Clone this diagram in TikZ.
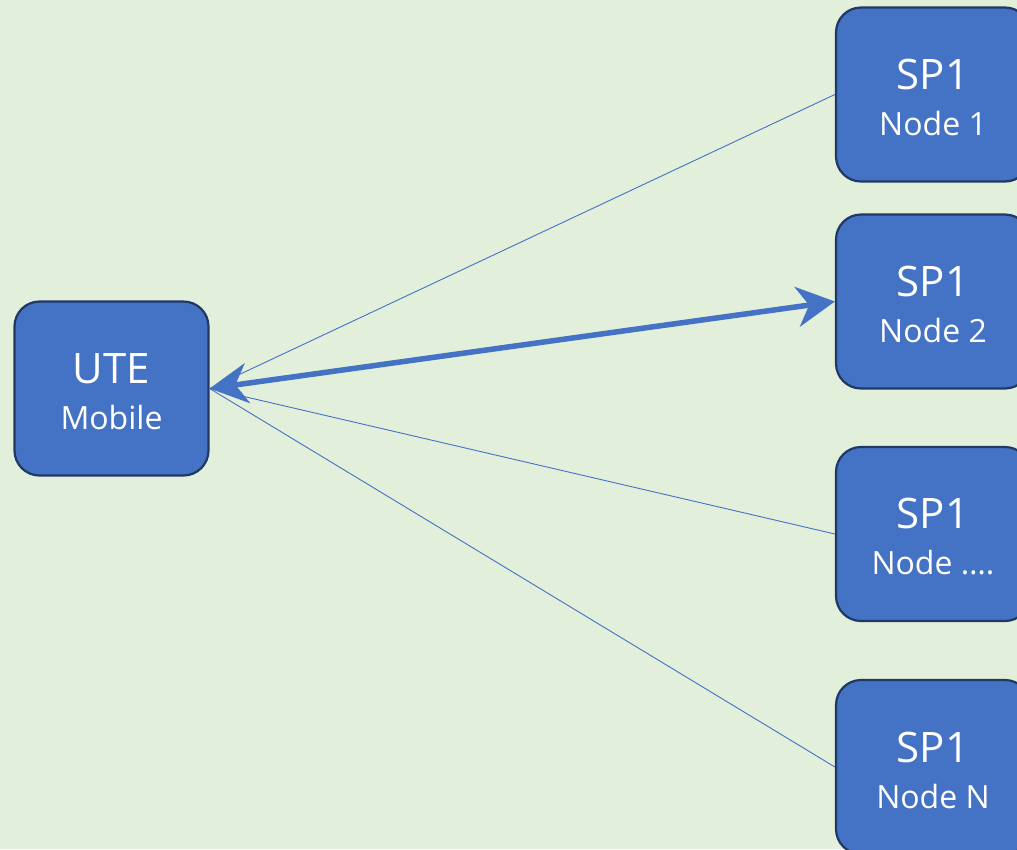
\documentclass[tikz,border=0pt]{standalone}
\usepackage{fontspec}
\setmainfont{Open Sans}
\usetikzlibrary{arrows.meta}
\definecolor{bg}{HTML}{E2EFDA}
\definecolor{boxfill}{HTML}{4472C4}
\definecolor{boxline}{HTML}{1F3864}
\definecolor{link}{HTML}{4472C4}
\newcommand\headtxt{\fontsize{42}{46}\selectfont}
\begin{document}
\begin{tikzpicture}[x=1pt,y=-1pt,
  unit/.style={draw=boxline, line width=2.2pt, fill=boxfill, rounded corners=25pt,
    minimum width=194pt, minimum height=174pt, inner sep=0pt},
  caption/.style={inner sep=0pt, text=white, align=center, yshift=-3pt,
    font=\fontsize{32}{46}\selectfont},
  thinlink/.style={draw=link, line width=0.9pt},
  mainlink/.style={draw=link, line width=5.5pt,
    {Stealth[length=38pt,width=40pt,inset=12pt]}-{Stealth[length=38pt,width=40pt,inset=12pt]}}]
  % canvas
  \fill[bg] (0,0) rectangle (1017,849);
  \useasboundingbox (0,0) rectangle (1017,849);

  % mobile terminal
  \node[unit] (ute) at (111.5,388.5) {};
  \node[caption] (uteT) at (ute.center) {{\headtxt UTE}\\Mobile};

  % service provider nodes
  \node[unit] (n1) at (933,94.5)  {};
  \node[unit] (n2) at (933,301.5) {};
  \node[unit] (n3) at (933,534)   {};
  \node[unit] (n4) at (933,767)   {};
  \node[caption] (n1T) at (n1.center) {{\headtxt SP1}\\Node 1};
  \node[caption] (n2T) at (n2.center) {{\headtxt SP1}\\Node 2};
  \node[caption] (n3T) at (n3.center) {{\headtxt SP1}\\Node ….};
  \node[caption] (n4T) at (n4.center) {{\headtxt SP1}\\Node N};

  % connectors
  \draw[thinlink] (ute.east) -- (n1.west);
  \draw[thinlink] (ute.east) -- (n3.west);
  \draw[thinlink] (ute.east) -- (n4.west);
  \draw[mainlink] (ute.east) -- (n2.west);
\end{tikzpicture}
\end{document}
